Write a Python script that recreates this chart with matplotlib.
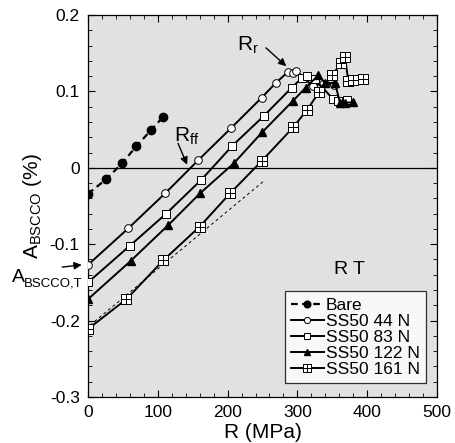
import numpy as np
import matplotlib.pyplot as plt
from matplotlib.path import Path

plt.rcParams['font.family'] = ['Liberation Sans', 'DejaVu Sans']

# stress R (MPa) and A_BSCCO (%) for each sample
bare_r = [0, 26, 49, 69, 90, 108]
bare_a = [-0.034, -0.015, 0.006, 0.028, 0.049, 0.067]

n44_r = [0, 58, 111, 158, 205, 249, 269, 287, 294, 298, 322, 336, 352]
n44_a = [-0.127, -0.079, -0.033, 0.010, 0.052, 0.092, 0.111, 0.126, 0.124, 0.127, 0.107, 0.110, 0.108]

n83_r = [0, 60, 112, 162, 207, 252, 292, 307, 314, 325, 351, 358, 371]
n83_a = [-0.150, -0.102, -0.060, -0.016, 0.029, 0.068, 0.105, 0.118, 0.120, 0.116, 0.090, 0.087, 0.089]

n122_r = [0, 61, 115, 161, 209, 250, 293, 312, 330, 340, 354, 361, 368, 380]
n122_a = [-0.172, -0.122, -0.075, -0.033, 0.006, 0.047, 0.087, 0.105, 0.121, 0.111, 0.111, 0.085, 0.085, 0.086]

n161_r = [0, 55, 108, 160, 204, 249, 294, 314, 331, 350, 362, 368, 373, 380, 394]
n161_a = [-0.211, -0.172, -0.121, -0.077, -0.033, 0.009, 0.053, 0.076, 0.099, 0.121, 0.137, 0.145, 0.114, 0.115, 0.116]

guide_r = [3, 251]
guide_a = [-0.206, -0.018]

# open square with a cross inside
box_cross = Path(
    [(-1, -1), (1, -1), (1, 1), (-1, 1), (-1, -1), (0, -1), (0, 1), (-1, 0), (1, 0)],
    [Path.MOVETO, Path.LINETO, Path.LINETO, Path.LINETO, Path.CLOSEPOLY,
     Path.MOVETO, Path.LINETO, Path.MOVETO, Path.LINETO])

fig = plt.figure(figsize=(4.56, 4.43), dpi=100)
ax = fig.add_axes([88 / 456, 46 / 443, 349 / 456, 382 / 443])
ax.set_facecolor('#e0e1e3')

ax.axhline(0, color='black', lw=0.9, zorder=1)
ax.plot(guide_r, guide_a, color='black', ls=(0, (3, 3)), lw=0.7, zorder=2)

ax.plot(bare_r, bare_a, color='black', ls=(0, (3, 2)), lw=1.6, marker='o', ms=6,
        mfc='black', mec='black', label='Bare', zorder=3)
ax.plot(n44_r, n44_a, color='black', lw=1.4, marker='o', ms=5.5, mfc='white',
        mec='black', mew=0.7, label='SS50 44 N', zorder=3)
ax.plot(n83_r, n83_a, color='black', lw=1.4, marker='s', ms=5.5, mfc='white',
        mec='black', mew=0.7, label='SS50 83 N', zorder=3)
ax.plot(n122_r, n122_a, color='black', lw=1.4, marker='^', ms=6, mfc='black',
        mec='black', label='SS50 122 N', zorder=3)
ax.plot(n161_r, n161_a, color='black', lw=1.4, marker=box_cross, ms=6.5, mfc='white',
        mec='black', mew=0.7, label='SS50 161 N', zorder=3)

ax.set_xlim(0, 500)
ax.set_ylim(-0.3, 0.2)
ax.set_xticks(np.arange(0, 501, 100))
ax.set_yticks([-0.3, -0.2, -0.1, 0, 0.1, 0.2])
ax.set_yticklabels(['-0.3', '-0.2', '-0.1', '0', '0.1', '0.2'])
ax.set_xticks(np.arange(0, 501, 20), minor=True)
ax.set_yticks(np.arange(-0.3, 0.201, 0.02), minor=True)
ax.tick_params(which='both', direction='in', top=True, right=True, labelsize=12.5)
ax.tick_params(axis='x', pad=6)
ax.tick_params(axis='y', pad=6)
ax.tick_params(which='major', length=5)
ax.tick_params(which='minor', length=3)
for s in ax.spines.values():
    s.set_linewidth(0.9)

ax.set_xlabel('R (MPa)', fontsize=15, labelpad=2)
ax.set_ylabel(r'A$_\mathregular{BSCCO}$ (%)', fontsize=15, labelpad=4)

# annotation arrows and labels
arrow = dict(arrowstyle='-|>', color='black', lw=1.0, shrinkA=0, shrinkB=0,
             mutation_scale=11)
ax.text(229, 0.160, r'R$_\mathregular{r}$', fontsize=15, ha='center', va='center')
ax.annotate('', xy=(284, 0.133), xytext=(255, 0.157), arrowprops=arrow)
ax.text(142, 0.042, r'R$_\mathregular{ff}$', fontsize=15, ha='center', va='center')
ax.annotate('', xy=(142, 0.004), xytext=(129, 0.032), arrowprops=arrow)
ax.annotate('', xy=(-9, -0.127), xytext=(-37, -0.130), annotation_clip=False,
            arrowprops=arrow)
fig.text(12 / 456, 1 - 282 / 443, 'A', fontsize=14, ha='left', va='baseline')
fig.text(24 / 456, 1 - 287 / 443, 'BSCCO,T', fontsize=9.5, ha='left', va='baseline')
ax.text(375, -0.133, 'R T', fontsize=14, ha='center', va='center')

leg = ax.legend(loc='lower left', bbox_to_anchor=(0.564, 0.037), fontsize=12.5,
                frameon=True, fancybox=False, edgecolor='black', handlelength=1.9,
                handletextpad=0.1, borderpad=0.35, labelspacing=0.05, markerscale=0.8,
                borderaxespad=0)
leg.get_frame().set_linewidth(0.9)

fig.savefig('out.png', dpi=100)
